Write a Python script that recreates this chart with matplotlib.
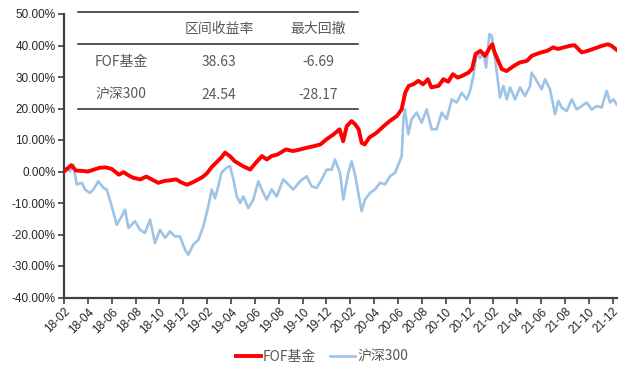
import matplotlib
matplotlib.use("Agg")
import matplotlib.pyplot as plt
from matplotlib.lines import Line2D

# ---- data (months since 2018-02, cumulative return %) ----
fof_t = [0.0, 0.25, 0.6, 1.0, 1.5, 2.0, 2.5, 3.0, 3.5, 4.0, 4.6, 5.0, 5.4, 5.8, 6.4, 6.9,
         7.5, 7.9, 8.4, 8.9, 9.4, 9.8, 10.3, 10.7, 11.2, 11.6, 12.0, 12.4, 12.8, 13.2, 13.5,
         13.9, 14.3, 15.0, 15.6, 16.2, 16.6, 17.0, 17.4, 17.9, 18.6, 19.2, 19.8, 20.3, 20.9,
         21.5, 22.0, 22.6, 23.1, 23.4, 23.7, 24.1, 24.4, 24.7, 24.95, 25.2, 25.6, 26.2, 26.8,
         27.3, 27.9, 28.3, 28.6, 28.9, 29.3, 29.7, 30.1, 30.5, 30.8, 31.4, 31.8, 32.2, 32.6,
         33.0, 33.4, 33.9, 34.2, 34.5, 34.9, 35.3, 35.7, 35.9, 36.1, 36.4, 36.7, 37.1, 37.7,
         38.2, 38.8, 39.2, 39.6, 40.0, 40.5, 41.0, 41.4, 41.9, 42.4, 42.8, 43.4, 43.9, 44.5,
         45.1, 45.6, 45.9, 46.33]
fof_v = [0.0, 0.8, 2.0, 0.3, 0.2, 0.0, 0.6, 1.2, 1.3, 0.8, -1.0, -0.2, -1.2, -2.0, -2.5, -1.6,
         -2.8, -3.6, -3.0, -2.8, -2.5, -3.4, -4.2, -3.6, -2.6, -1.8, -0.5, 1.5, 3.0, 4.5, 6.0,
         4.9, 3.3, 1.7, 0.6, 3.3, 4.9, 3.8, 4.9, 5.4, 7.0, 6.5, 7.0, 7.5, 8.0,
         8.6, 10.2, 11.8, 13.4, 9.6, 14.4, 16.0, 15.0, 13.4, 9.1, 8.6, 10.8, 12.3, 14.4,
         16.0, 17.6, 19.7, 25.0, 27.2, 27.7, 28.8, 27.7, 29.3, 26.7, 27.2, 29.3, 28.5, 30.9,
         29.8, 30.4, 31.4, 32.5, 37.3, 38.3, 36.7, 39.4, 40.4, 37.8, 35.1, 32.5, 31.9, 33.5,
         34.6, 35.1, 36.7, 37.3, 37.8, 38.3, 39.4, 38.9, 39.4, 39.9, 40.1, 37.8, 38.3, 39.1,
         39.9, 40.4, 39.9, 38.6]

hs_t = [0.0, 0.23, 0.5, 0.78, 1.06, 1.5, 1.76, 2.18, 2.46, 2.88, 3.3, 3.58, 4.0, 4.42, 4.84,
        5.12, 5.4, 5.95, 6.37, 6.79, 7.21, 7.63, 8.05, 8.47, 8.89, 9.3, 9.72, 10.14, 10.42,
        10.84, 11.26, 11.68, 12.1, 12.38, 12.66, 12.93, 13.2, 13.63, 13.91, 14.2, 14.48, 14.76,
        15.03, 15.45, 15.87, 16.29, 16.57, 16.99, 17.41, 17.83, 18.38, 18.8, 19.22, 19.78,
        20.34, 20.76, 21.18, 21.6, 22.02, 22.44, 22.72, 23.14, 23.41, 23.83, 24.11, 24.4,
        24.67, 24.95, 25.23, 25.65, 26.07, 26.49, 26.91, 27.33, 27.75, 28.03, 28.31, 28.45,
        28.58, 28.86, 29.14, 29.56, 29.98, 30.4, 30.82, 31.24, 31.66, 32.08, 32.5, 32.92,
        33.34, 33.76, 34.04, 34.32, 34.6, 34.88, 35.15, 35.38, 35.66, 35.86, 36.05, 36.28,
        36.55, 36.83, 37.11, 37.39, 37.81, 38.23, 38.64, 39.06, 39.2, 39.62, 40.04, 40.32,
        40.74, 41.16, 41.44, 41.72, 42.14, 42.56, 42.98, 43.4, 43.82, 44.23, 44.65, 45.07,
        45.49, 45.77, 46.05, 46.33]
hs_v = [0.0, 1.2, 0.1, 2.2, -4.1, -3.6, -5.7, -6.8, -5.7, -3.1, -5.2, -5.7, -11.0, -16.9, -14.2,
        -12.1, -17.9, -15.8, -18.5, -19.5, -15.3, -22.7, -18.5, -21.1, -19.0, -20.6, -20.6, -24.8, -26.4,
        -23.2, -21.7, -17.4, -11.0, -5.7, -8.5, -4.7, -0.4, 1.2, 1.7, -2.5, -7.9, -10.0,
        -7.9, -11.6, -8.9, -3.1, -5.7, -8.9, -5.7, -7.9, -2.5, -4.1, -5.7, -3.1,
        -1.5, -4.7, -5.2, -2.5, 0.6, 0.6, 3.8, -0.5, -8.9, -0.4, 3.2, -1.0,
        -6.8, -12.6, -8.9, -6.8, -5.7, -3.6, -4.1, -1.5, -0.4, 2.2, 4.9, 16.6,
        19.7, 11.8, 16.6, 18.7, 15.5, 19.7, 13.4, 13.4, 18.7, 16.6, 22.9, 21.9,
        25.0, 22.9, 25.6, 30.4, 38.0, 36.0, 37.8, 33.0, 43.6, 43.1, 37.8, 31.4,
        23.5, 27.2, 22.9, 26.7, 22.9, 26.7, 24.0, 27.0, 31.4, 28.8, 26.1, 29.3,
        26.1, 18.2, 22.4, 20.3, 19.2, 22.9, 19.7, 20.8, 21.9, 19.7, 20.8, 20.3,
        25.6, 21.9, 22.9, 21.3]

x_tick_pos = list(range(0, 47, 2))
x_tick_labels = ["18-02", "18-04", "18-06", "18-08", "18-10", "18-12",
                 "19-02", "19-04", "19-06", "19-08", "19-10", "19-12",
                 "20-02", "20-04", "20-06", "20-08", "20-10", "20-12",
                 "21-02", "21-04", "21-06", "21-08", "21-10", "21-12"]
y_ticks = [-40, -30, -20, -10, 0, 10, 20, 30, 40, 50]

series_names = ["FOF基金", "沪深300"]
table_header = ["区间收益率", "最大回撤"]
table_rows = [["FOF基金", "38.63", "-6.69"], ["沪深300", "24.54", "-28.17"]]

# ---- figure ----
W, H = 640, 378
fig = plt.figure(figsize=(W / 100, H / 100), dpi=100)
ax = fig.add_axes([64 / W, 1 - 297.5 / H, (616.7 - 64) / W, (297.5 - 14) / H])

cjk = ["Noto Sans CJK SC", "DejaVu Sans"]
txt_col = "#595959"
spine_col = "#404040"

l1, = ax.plot(hs_t, hs_v, color="#9DC3E6", lw=1.9, solid_joinstyle="round", zorder=2)
l2, = ax.plot(fof_t, fof_v, color="#FF0000", lw=2.8, solid_joinstyle="round", zorder=3)

ax.set_xlim(0, 46.33)
ax.set_ylim(-40, 50)
ax.set_yticks(y_ticks)
ax.set_yticklabels([f"{v:.2f}%" for v in y_ticks], fontfamily="Liberation Sans", fontsize=8.5, color="#262626")
ax.set_xticks(x_tick_pos)
ax.set_xticklabels(x_tick_labels, rotation=45, ha="right", va="top", rotation_mode="anchor",
                   fontfamily="Liberation Sans", fontsize=8.5, color="#262626")
ax.tick_params(axis="both", direction="out", length=4, width=1.2, color=spine_col, pad=2)
for s in ["top", "right"]:
    ax.spines[s].set_visible(False)
for s in ["left", "bottom"]:
    ax.spines[s].set_color(spine_col)
    ax.spines[s].set_linewidth(1.6)

# ---- inset table ----
def fx(px):
    return px / W

def fy(py):
    return 1 - py / H

for ly in [12, 44, 109]:
    fig.add_artist(Line2D([fx(78), fx(358)], [fy(ly), fy(ly)], color="#262626", lw=1.1))

col_x = [121, 219, 318]
fs_tab = 10
fig.text(fx(col_x[1]), fy(29), table_header[0], ha="center", va="center", family=cjk, fontsize=fs_tab, color=txt_col)
fig.text(fx(col_x[2]), fy(29), table_header[1], ha="center", va="center", family=cjk, fontsize=fs_tab, color=txt_col)
for row, py in zip(table_rows, [62, 95]):
    for val, px in zip(row, col_x):
        fig.text(fx(px), fy(py), val, ha="center", va="center", family=cjk, fontsize=fs_tab, color=txt_col)

# ---- legend ----
leg = fig.legend([l2, l1], series_names, loc="center", bbox_to_anchor=(fx(322), fy(357)),
                 ncol=2, frameon=False, handlelength=1.8, handletextpad=0.15, columnspacing=1.0,
                 prop={"family": cjk, "size": 10})
for t in leg.get_texts():
    t.set_color(txt_col)

fig.savefig("out.png", dpi=100)
